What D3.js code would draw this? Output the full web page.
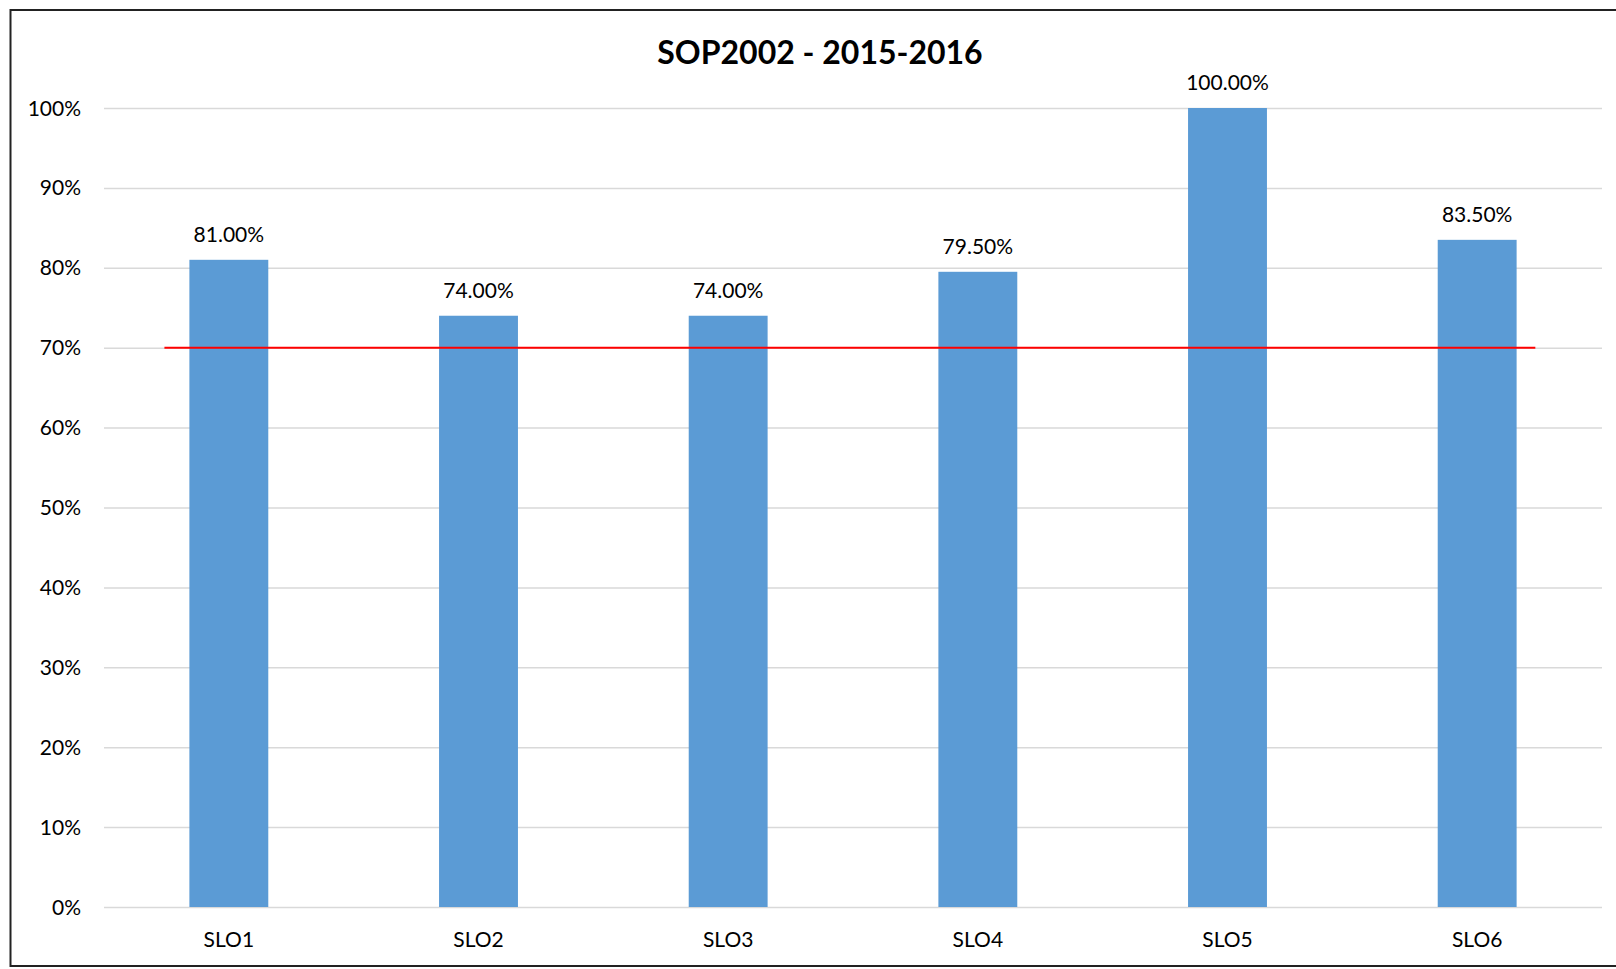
<!DOCTYPE html>
<html lang="en">
<head>
    <meta charset="UTF-8">
    <title>SOP2002 - 2015-2016</title>
    <script src="https://d3js.org/d3.v7.min.js"></script>
    <style>
        body { margin: 0; background: #fff; }
        text { font-family: Lato, "Open Sans", sans-serif; fill: #000; }
        .grid line { stroke: #d9d9d9; stroke-width: 1.5; }
        .grid path { display: none; }
    </style>
</head>
<body>
<script>
// Data
const categories = ["SLO1", "SLO2", "SLO3", "SLO4", "SLO5", "SLO6"];
const values = [0.81, 0.74, 0.74, 0.795, 1.00, 0.835];
const target = 0.70;
const yTicks = [0, 0.1, 0.2, 0.3, 0.4, 0.5, 0.6, 0.7, 0.8, 0.9, 1.0];
const title = "SOP2002 - 2015-2016";

const W = 1616, H = 969;
const plot = {left: 104, right: 1602, top: 108, bottom: 907};

const svg = d3.select("body").append("svg")
    .attr("width", W)
    .attr("height", H);

// outer frame (right edge is cut off in the original)
svg.append("path")
    .attr("d", `M${W},10 H10.5 V966 H${W}`)
    .attr("fill", "none")
    .attr("stroke", "#222")
    .attr("stroke-width", 2);

const x = d3.scaleBand().domain(categories)
    .range([plot.left, plot.right])
    .paddingInner(0.684).paddingOuter(0.342);
const y = d3.scaleLinear().domain([0, 1]).range([plot.bottom, plot.top]);

// gridlines
svg.append("g").attr("class", "grid")
    .attr("transform", `translate(${plot.left},0)`)
    .call(d3.axisLeft(y).tickValues(yTicks).tickSize(-(plot.right - plot.left)).tickFormat(""));

// y labels
svg.append("g").selectAll("text")
    .data(yTicks)
    .join("text")
    .attr("x", 81)
    .attr("y", d => y(d))
    .attr("dy", "0.36em")
    .attr("text-anchor", "end")
    .style("font-size", "21px")
    .text(d3.format(".0%"));

// bars
svg.append("g").selectAll("rect")
    .data(values)
    .join("rect")
    .attr("x", (d, i) => x(categories[i]))
    .attr("y", d => y(d))
    .attr("width", x.bandwidth())
    .attr("height", d => y(0) - y(d))
    .attr("fill", "#5b9bd5");

// value labels
svg.append("g").selectAll("text")
    .data(values)
    .join("text")
    .attr("x", (d, i) => x(categories[i]) + x.bandwidth() / 2)
    .attr("y", d => y(d) - 18)
    .attr("text-anchor", "middle")
    .style("font-size", "21px")
    .text(d3.format(".2%"));

// category labels
svg.append("g").selectAll("text")
    .data(categories)
    .join("text")
    .attr("x", d => x(d) + x.bandwidth() / 2)
    .attr("y", 947)
    .attr("text-anchor", "middle")
    .style("font-size", "21px")
    .text(d => d);

// target line at 70%
const step = x.step();
const first = x(categories[0]) + x.bandwidth() / 2;
const last = x(categories[categories.length - 1]) + x.bandwidth() / 2;
svg.append("line")
    .attr("x1", first - step * 0.258)
    .attr("x2", last + step * 0.233)
    .attr("y1", y(target))
    .attr("y2", y(target))
    .attr("stroke", "#ff0000")
    .attr("stroke-width", 2);

// title
svg.append("text")
    .attr("x", 820)
    .attr("y", 64)
    .attr("text-anchor", "middle")
    .style("font-size", "32px")
    .style("font-weight", "bold")
    .text(title);
</script>
</body>
</html>
